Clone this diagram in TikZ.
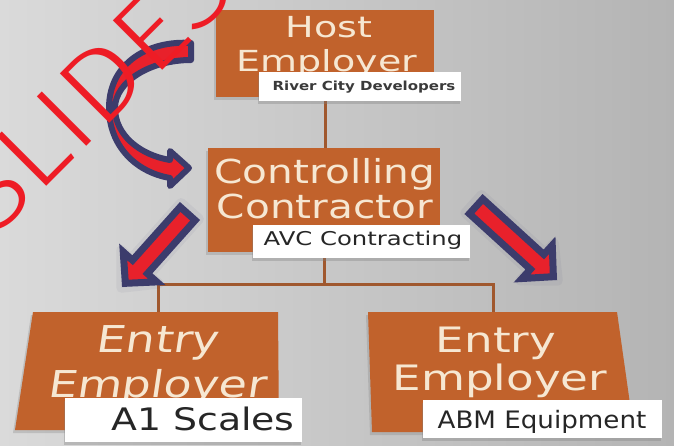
\documentclass[tikz,border=0pt]{standalone}
\usepackage{fontspec}
\setmainfont{DejaVu Sans}
\newfontfamily\slantfont{DejaVu Sans}[FakeSlant=0.12]
\IfFontExistsTF{Fira Sans Light}{%
  \newfontfamily\wmfont{Fira Sans Light}\def\wmsize{102}\def\wmsc{1.15}\def\wmpos{(-7,240)}}{%
  \newfontfamily\wmfont{Liberation Sans}\def\wmsize{97}\def\wmsc{1.0}\def\wmpos{(-11,238)}}
\usetikzlibrary{shadows}
\definecolor{bgL}{HTML}{DADADA}
\definecolor{bgR}{HTML}{B4B4B4}
\definecolor{boxfill}{HTML}{C1622C}
\definecolor{cream}{HTML}{F6E7D2}
\definecolor{connc}{HTML}{A0582E}
\definecolor{navy}{HTML}{3C3C6C}
\definecolor{ared}{HTML}{E8212B}
\definecolor{wmred}{HTML}{EE1C25}
\definecolor{lbltext}{HTML}{262626}
\definecolor{lblgray}{HTML}{3A3A3A}
\newcommand\hsc[2]{\scalebox{#1}[1]{#2}}
\newcommand\myarrow[4]{%
  \begin{scope}[shift={(#1,#2)},rotate=#3]
    \path[glow] (0,-12) -- ({#4-27},-12) -- ({#4-27},-25) -- ({#4+1},0) -- ({#4-27},25) -- ({#4-27},12) -- (0,12) -- cycle;
    \draw[sarrow] (3.5,-10) -- ({#4-27},-10) -- ({#4-27},-22.5) -- ({#4-5},0) -- ({#4-27},22.5) -- ({#4-27},10) -- (3.5,10) -- cycle;
  \end{scope}}
\begin{document}
\begin{tikzpicture}[x=1pt,y=-1pt,
  box/.style={fill=boxfill,draw=none,inner sep=0pt,drop shadow={opacity=0.3,shadow xshift=-2pt,shadow yshift=-3pt}},
  boxpath/.style={fill=boxfill,drop shadow={opacity=0.3,shadow xshift=-2pt,shadow yshift=-3pt}},
  conn/.style={draw=connc,line width=3pt},
  ttl/.style={text=cream,inner sep=0pt,anchor=base},
  lbl/.style={fill=white,draw=none,inner sep=0pt,drop shadow={opacity=0.35,shadow xshift=-1pt,shadow yshift=-3pt}},
  lbltxt/.style={text=lbltext,inner sep=0pt,anchor=base},
  sarrow/.style={draw=navy,fill=ared,line width=7pt,line join=miter},
  carrow/.style={draw=navy,fill=ared,line width=6pt,line join=round},
  glow/.style={fill=navy,fill opacity=0.07,draw=navy,draw opacity=0.06,line width=10pt,line join=round},
  wm/.style={text=wmred,inner sep=0pt,anchor=base west,rotate=45}]
\useasboundingbox (0,0) rectangle (674,445);
\shade[left color=bgL,right color=bgR] (0,0) rectangle (674,445);

% connectors
\coordinate (tee) at (326,284);
\coordinate (e1) at (158,312);
\coordinate (e2) at (493,312);
\node[minimum width=218pt,minimum height=87pt,inner sep=0pt] (hostpos) at (325,53.5) {};
\node[minimum width=232pt,minimum height=104pt,inner sep=0pt] (ctrlpos) at (324,200) {};
\draw[conn] (hostpos.south) -- (hostpos.south |- ctrlpos.north);
\draw[conn] (ctrlpos.south) -- (ctrlpos.south |- tee);
\draw[conn] (e1) -- (e1 |- tee) -- (e2 |- tee) -- (e2);

% boxes
\node[box,minimum width=218pt,minimum height=87pt] (host) at (325,53.5) {};
\node[box,minimum width=232pt,minimum height=104pt] (ctrl) at (324,200) {};
\path[boxpath] (33,312) -- (278,312) -- (279,430) -- (15,430) -- cycle;
\path[boxpath] (368,312) -- (617,312) -- (634,432) -- (372,432) -- cycle;

% titles
\node[ttl,font=\fontsize{29}{29}\selectfont] (hostA) at (329,37) {\hsc{1.31}{Host}};
\node[ttl,font=\fontsize{29}{29}\selectfont] (hostB) at (327,71) {\hsc{1.31}{Employer}};
\node[ttl,font=\fontsize{33}{33}\selectfont] (ctrlA) at (325,183) {\hsc{1.23}{Controlling}};
\node[ttl,font=\fontsize{33}{33}\selectfont] (ctrlB) at (325,218) {\hsc{1.23}{Contractor}};
\node[ttl,font=\slantfont\fontsize{37}{37}\selectfont] (e1A) at (157,352) {\hsc{1.24}{Entry}};
\node[ttl,font=\slantfont\fontsize{37}{37}\selectfont] (e1B) at (156,397) {\hsc{1.24}{Employer}};
\node[ttl,font=\fontsize{35}{35}\selectfont] (e2A) at (496,352) {\hsc{1.29}{Entry}};
\node[ttl,font=\fontsize{35}{35}\selectfont] (e2B) at (500,390) {\hsc{1.29}{Employer}};

% labels
\node[lbl,minimum width=202pt,minimum height=29pt] (rcd) at (360,86.5) {};
\node[lbltxt,text=lblgray,font=\bfseries\fontsize{12.5}{12.5}\selectfont] (rcdt) at (364,90) {\hsc{1.2}{River City Developers}};
\node[lbl,minimum width=217pt,minimum height=33pt] (avc) at (361.5,241.5) {};
\node[lbltxt,font=\fontsize{19}{19}\selectfont] (avct) at (363,245) {\hsc{1.28}{AVC Contracting}};
\node[lbl,minimum width=237pt,minimum height=44pt] (a1) at (183.5,420) {};
\node[lbltxt,font=\fontsize{31}{31}\selectfont] (a1t) at (203,430) {\hsc{1.22}{A1 Scales}};
\node[lbl,minimum width=239pt,minimum height=38pt] (abm) at (542.5,419) {};
\node[lbltxt,font=\fontsize{24}{24}\selectfont] (abmt) at (542,428) {\hsc{1.09}{ABM Equipment}};

% curved arrow
\draw[carrow] (191,43) .. controls (150,40) and (109,62) .. (109,108)
  .. controls (109,145) and (135,172) .. (170,178)
  -- (170,186) -- (189,168) -- (170,151) -- (170,160)
  .. controls (140,155) and (115,135) .. (115,108)
  .. controls (115,82) and (150,60) .. (191,60) -- cycle;

% straight arrows
\myarrow{190}{211}{228.2}{102}
\myarrow{473.5}{204}{-42.3}{113}

% watermark
\node[wm,font=\wmfont\fontsize{\wmsize}{\wmsize}\selectfont] (wmk) at \wmpos {\hsc{\wmsc}{SLIDES}};
\end{tikzpicture}
\end{document}
